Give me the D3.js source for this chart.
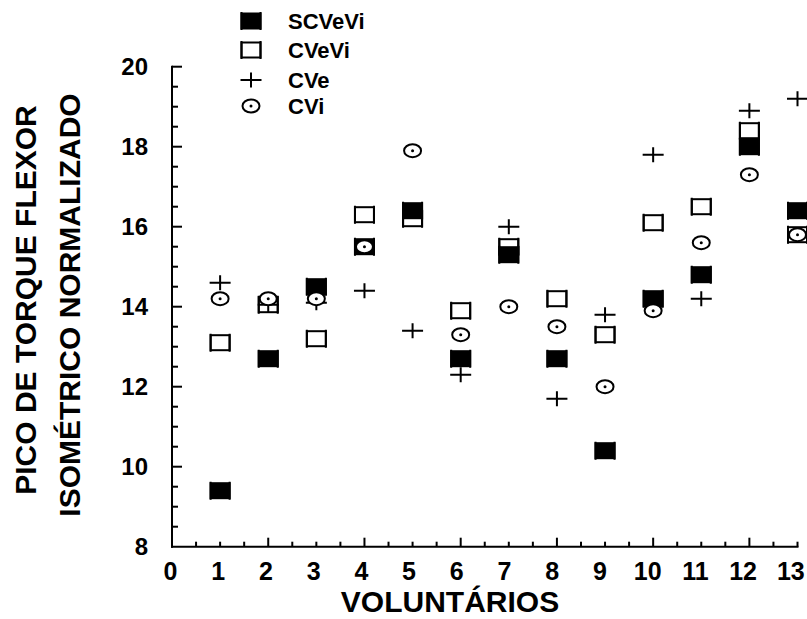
<!DOCTYPE html>
<html><head><meta charset="utf-8">
<script src="https://cdn.jsdelivr.net/npm/d3@7"></script>
<style>body{margin:0;background:#fff}svg{display:block}text{font-family:"Liberation Sans",Arial,sans-serif;font-weight:bold;fill:#000}</style>
</head><body>
<svg id="c" width="807" height="619"></svg>
<script>
const voluntarios = [1,2,3,4,5,6,7,8,9,10,11,12,13];
const SCVeVi = [9.4, 12.7, 14.5, 15.5, 16.4, 12.7, 15.3, 12.7, 10.4, 14.2, 14.8, 18.0, 16.4];
const CVeVi  = [13.1, 14.05, 13.2, 16.3, 16.2, 13.9, 15.5, 14.2, 13.3, 16.1, 16.5, 18.4, 15.8];
const CVe    = [14.6, 14.05, 14.1, 14.4, 13.4, 12.3, 16.0, 11.7, 13.8, 17.8, 14.2, 18.9, 19.2];
const CVi    = [14.2, 14.2, 14.2, 15.5, 17.9, 13.3, 14.0, 13.5, 12.0, 13.9, 15.6, 17.3, 15.8];
const seriesNames = ["SCVeVi","CVeVi","CVe","CVi"];
const xTicks = [0,1,2,3,4,5,6,7,8,9,10,11,12,13];
const yTicks = [8,10,12,14,16,18,20];

const svg = d3.select("#c");
const x = d3.scaleLinear().domain([0,13]).range([172,797.5]);
const y = d3.scaleLinear().domain([8,20]).range([546.7,66.7]);

// axes lines
const ax = svg.append("g").attr("stroke","#000").attr("stroke-width",2).attr("fill","none");
ax.append("line").attr("x1",x(0)).attr("x2",x(0)).attr("y1",y(20)-1).attr("y2",y(8)+1);
ax.append("line").attr("x1",x(0)-1).attr("x2",x(13)+1).attr("y1",y(8)).attr("y2",y(8));
// y ticks
d3.range(8.5,20.001,0.5).forEach(v=>{
  const major = Math.abs(v%2)<1e-9;
  ax.append("line").attr("x1",x(0)).attr("x2",x(0)+(major?10:6)).attr("y1",y(v)).attr("y2",y(v));
});
// x ticks
d3.range(0.5,13.001,0.5).forEach(v=>{
  const major = Math.abs(v%2)<1e-9;
  ax.append("line").attr("x1",x(v)).attr("x2",x(v)).attr("y1",y(8)).attr("y2",y(8)-(major?9:5));
});
// tick labels
svg.append("g").selectAll("text").data(yTicks).join("text")
  .attr("x",148).attr("y",d=>y(d)).attr("dy","0.36em").attr("text-anchor","end")
  .attr("font-size",24).text(d=>d);
svg.append("g").selectAll("text").data(xTicks).join("text")
  .attr("x",d=>x(d)-1.5-0.4*d).attr("y",580).attr("text-anchor","middle")
  .attr("font-size",25).text(d=>d);
// axis titles
svg.append("text").attr("x",450).attr("y",612).attr("text-anchor","middle").attr("font-size",30).text("VOLUNTÁRIOS");
svg.append("text").attr("transform","translate(36,300) rotate(-90)").attr("text-anchor","middle").attr("font-size",30).text("PICO DE TORQUE FLEXOR");
svg.append("text").attr("transform","translate(80,305) rotate(-90)").attr("text-anchor","middle").attr("font-size",30).text("ISOMÉTRICO NORMALIZADO");

// marker drawers
function sq(g, filled){
  const w=19,h=15;
  g.append("rect").attr("x",-w/2).attr("y",-h/2).attr("width",w).attr("height",h)
   .attr("fill",filled?"#000":"none").attr("stroke","#000").attr("stroke-width",2);
  g.append("path").attr("d",`M${-w/2},${-h/2-1.5}V${h/2+1.5}M${w/2},${-h/2-1.5}V${h/2+1.5}`)
   .attr("stroke","#000").attr("stroke-width",2);
}
function plus(g){
  g.append("path").attr("d","M-10.5,0H10.5M0,-7.5V7.5").attr("stroke","#000").attr("stroke-width",2).attr("fill","none");
}
function circ(g){
  g.append("ellipse").attr("rx",8.5).attr("ry",6.5).attr("fill","#fff").attr("stroke","#000").attr("stroke-width",2);
  g.append("circle").attr("r",1.5).attr("fill","#000");
}
const drawers = [g=>sq(g,true), g=>sq(g,false), plus, circ];
const seriesData = [SCVeVi, CVeVi, CVe, CVi];

seriesData.forEach((vals,i)=>{
  svg.append("g").selectAll("g").data(voluntarios.map((v,j)=>({v, val:vals[j]}))).join("g")
    .attr("transform",d=>`translate(${x(d.v)},${y(d.val)})`)
    .each(function(){ drawers[i](d3.select(this)); });
});

// legend
const legY = [21, 50, 80, 106];
seriesNames.forEach((n,i)=>{
  const g = svg.append("g").attr("transform",`translate(251,${legY[i]})`);
  drawers[i](g);
  svg.append("text").attr("x",288).attr("y",legY[i]).attr("dy","0.36em").attr("font-size",22).text(n);
});
</script>
</body></html>
